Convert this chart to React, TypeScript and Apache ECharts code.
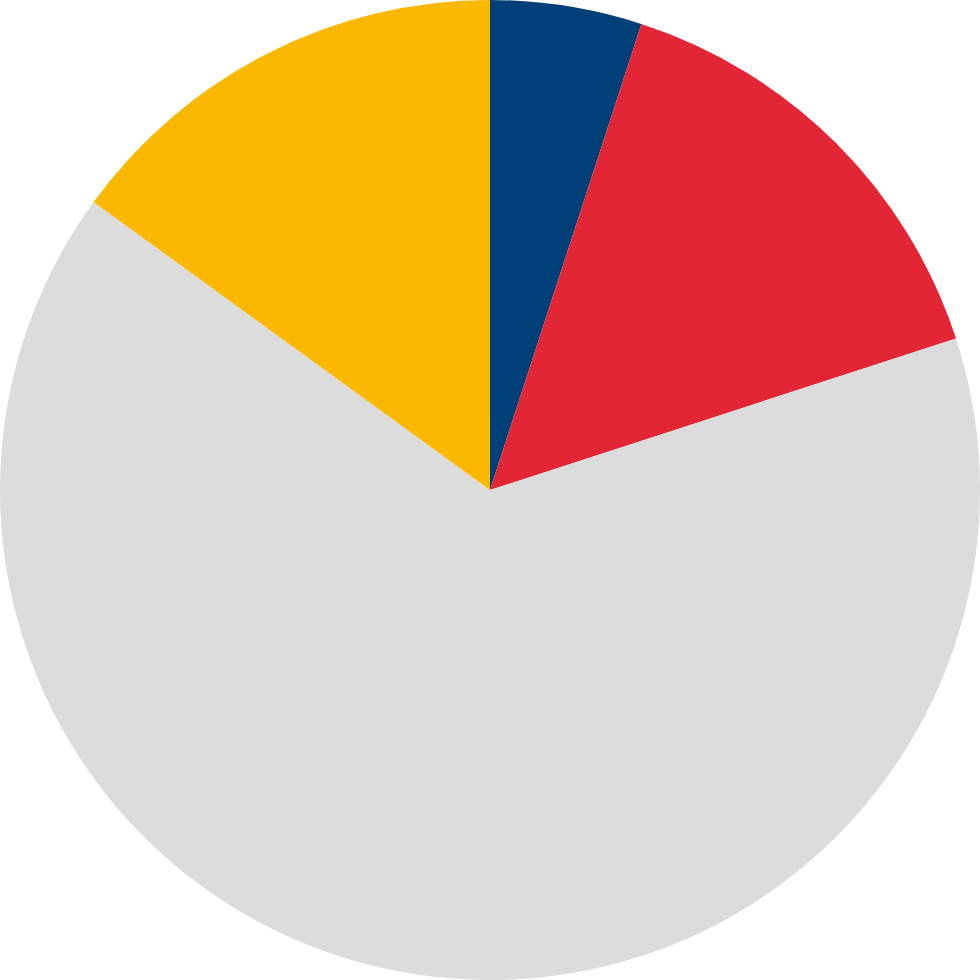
import React, { useEffect, useRef } from "react";
import * as echarts from "echarts";

const categories = ["Blue", "Red", "Gray", "Yellow"];
const values = [5, 15, 65, 15];
const colors = ["#003f77", "#e32636", "#dcdcdc", "#fbb800"];

export default function App() {
  const ref = useRef<HTMLDivElement>(null);
  useEffect(() => {
    if (!ref.current) return;
    const chart = echarts.init(ref.current, undefined, { renderer: "svg" });
    chart.setOption({
      animation: false,
      backgroundColor: "#ffffff",
      series: [
        {
          type: "pie",
          center: ["50%", "50%"],
          radius: ["0%", 490],
          startAngle: 90,
          clockwise: true,
          label: { show: false },
          labelLine: { show: false },
          emphasis: { disabled: true },
          itemStyle: { borderWidth: 0 },
          data: categories.map((name, i) => ({
            name,
            value: values[i],
            itemStyle: { color: colors[i] },
          })),
        },
      ],
    });
    return () => chart.dispose();
  }, []);
  return (
    <div
      ref={ref}
      style={{ position: "fixed", left: 0, top: 0, width: 980, height: 980 }}
    />
  );
}
